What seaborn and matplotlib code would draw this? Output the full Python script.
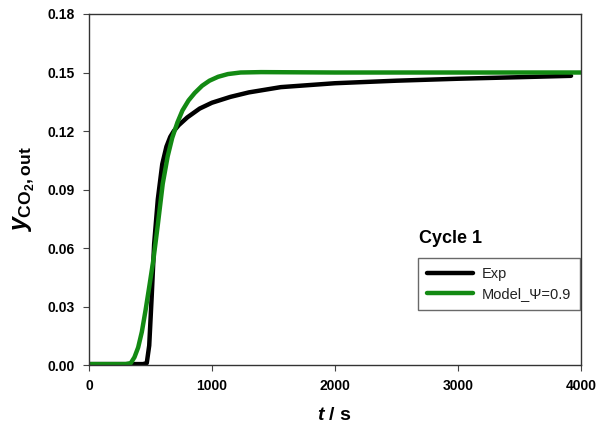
import seaborn as sns
import matplotlib.pyplot as plt
import pandas as pd
import numpy as np

# Datos (Cycle 1)
t_exp = [0, 440, 470, 490, 510, 530, 560, 596, 630, 661, 690, 730, 800, 900, 1000,
         1150, 1300, 1560, 2000, 2500, 3000, 3500, 3920]
y_exp = [0.0005, 0.0005, 0.001, 0.01, 0.035, 0.062, 0.085, 0.103, 0.112, 0.117,
         0.120, 0.123, 0.127, 0.1315, 0.1345, 0.1375, 0.1398, 0.1425, 0.1445,
         0.1458, 0.1468, 0.1476, 0.1483]

t_model = [0, 300, 340, 370, 400, 430, 460, 490, 524, 560, 600, 640, 677, 720, 760,
           810, 860, 920, 980, 1050, 1130, 1233, 1400, 2000, 4000]
y_model = [0.0005, 0.0005, 0.001, 0.004, 0.009, 0.017, 0.028, 0.040, 0.054, 0.072,
           0.093, 0.107, 0.1165, 0.1245, 0.1305, 0.1357, 0.1395, 0.1432, 0.1458,
           0.1478, 0.1492, 0.150, 0.1502, 0.150, 0.150]

df = pd.concat([
    pd.DataFrame({'t': t_exp, 'y': y_exp, 'serie': 'Exp'}),
    pd.DataFrame({'t': t_model, 'y': y_model, 'serie': 'Model_\u03a8=0.9'}),
])

sns.set_style("ticks")
plt.rcParams['font.family'] = ['Liberation Sans', 'DejaVu Sans']
plt.rcParams['mathtext.fontset'] = 'custom'
plt.rcParams['mathtext.rm'] = 'Liberation Sans:bold'
plt.rcParams['mathtext.it'] = 'Liberation Sans:italic:bold'
plt.rcParams['mathtext.bf'] = 'Liberation Sans:bold'
plt.rcParams['text.color'] = 'black'
plt.rcParams['axes.labelcolor'] = 'black'
plt.rcParams['xtick.color'] = 'black'
plt.rcParams['ytick.color'] = 'black'

fig = plt.figure(figsize=(5.97, 4.24), dpi=100)
ax = fig.add_axes([0.149, 0.139, 0.824, 0.828])

sns.lineplot(data=df, x='t', y='y', hue='serie', sort=False, estimator=None,
             palette=['black', '#138a13'], linewidth=3.2, ax=ax)

ax.set_xlim(0, 4000)
ax.set_ylim(0, 0.18)
ax.set_xticks([0, 1000, 2000, 3000, 4000])
ax.set_yticks([0, 0.03, 0.06, 0.09, 0.12, 0.15, 0.18])
ax.set_yticklabels([f'{v:.2f}' for v in [0, 0.03, 0.06, 0.09, 0.12, 0.15, 0.18]])
for lab in ax.get_xticklabels() + ax.get_yticklabels():
    lab.set_fontweight('bold')
    lab.set_fontsize(10)
ax.tick_params(direction='out', length=4, width=0.8, color='#444444', pad=6)
for s in ax.spines.values():
    s.set_color('#333333')
    s.set_linewidth(1.0)
    s.set_visible(True)

ax.set_xlabel(r'$t$ / s', fontsize=14, fontweight='bold', labelpad=10)
ax.set_ylabel(r'$y_{\mathrm{CO_2,out}}$', fontsize=18, labelpad=8)

ax.text(0.67, 0.336, 'Cycle 1', transform=ax.transAxes, fontsize=13,
        fontweight='bold', ha='left', va='bottom')
leg = ax.legend(loc='upper left', bbox_to_anchor=(0.669, 0.305), frameon=True,
                fancybox=False, edgecolor='#444444', fontsize=10.5, handlelength=3.2,
                borderaxespad=0, borderpad=0.6, labelspacing=0.45, handletextpad=0.6)
leg.get_frame().set_linewidth(1.0)
for txt in leg.get_texts():
    txt.set_color('#222222')

fig.savefig('out.png', dpi=100)
